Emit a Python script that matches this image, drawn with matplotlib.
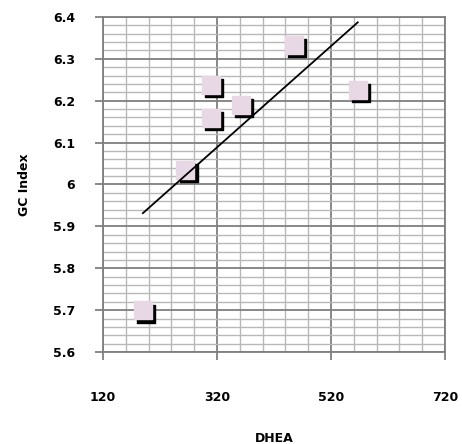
import numpy as np
import matplotlib
matplotlib.use("Agg")
import matplotlib.pyplot as plt
import matplotlib.transforms as mtransforms
from matplotlib.ticker import MultipleLocator

# données
dhea = [190, 264, 309, 309, 362, 455, 567]
gc_index = [5.70, 6.035, 6.238, 6.159, 6.19, 6.333, 6.226]
x_ticks = [120, 320, 520, 720]
y_ticks = [5.6, 5.7, 5.8, 5.9, 6.0, 6.1, 6.2, 6.3, 6.4]
y_labels = ["5.6", "5.7", "5.8", "5.9", "6", "6.1", "6.2", "6.3", "6.4"]

fig = plt.figure(figsize=(4.62, 4.44), dpi=100)
ax = fig.add_axes([0.223, 0.207, 0.740, 0.755])

ax.set_xlim(120, 720)
ax.set_ylim(5.6, 6.4)
ax.set_xticks(x_ticks)
ax.set_xticklabels([str(v) for v in x_ticks])
ax.set_yticks(y_ticks)
ax.set_yticklabels(y_labels)
ax.xaxis.set_minor_locator(MultipleLocator(40))
ax.yaxis.set_minor_locator(MultipleLocator(0.02))

ax.grid(which="major", color="#7f7f7f", lw=1.3)
ax.grid(which="minor", color="#b8b8b8", lw=1.0)
ax.set_axisbelow(True)
for s in ax.spines.values():
    s.set_color("#7f7f7f")
    s.set_linewidth(1.3)

ax.tick_params(which="major", length=6, color="#7f7f7f", width=1.3)
ax.tick_params(which="minor", length=0)
ax.tick_params(axis="y", pad=14)
ax.tick_params(axis="x", pad=22)
for lab in ax.get_xticklabels() + ax.get_yticklabels():
    lab.set_fontweight("bold")
    lab.set_fontsize(9)

# ombre des marqueurs
shadow = mtransforms.offset_copy(ax.transData, fig=fig, x=2.5, y=-2.5, units="points")
ax.scatter(dhea, gc_index, marker="s", s=150, color="black", transform=shadow, zorder=3)
ax.scatter(dhea, gc_index, marker="s", s=150, color="#e8d8e6", zorder=4)

# droite de tendance
a, b = np.polyfit(dhea, gc_index, 1)
xx = np.array([min(dhea), max(dhea)])
ax.plot(xx, a * xx + b, color="black", lw=1.3, zorder=5)

ax.set_xlabel("DHEA", fontsize=9, fontweight="bold", labelpad=20)
ax.set_ylabel("GC Index", fontsize=9, fontweight="bold", labelpad=16)

fig.savefig("out.png", dpi=100)
